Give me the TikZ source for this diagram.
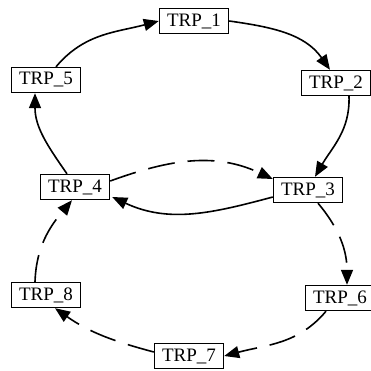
\documentclass[tikz,border=0pt]{standalone}
\usepackage{fontspec}
\setmainfont{Liberation Serif}
\usetikzlibrary{arrows.meta}
\begin{document}
\begin{tikzpicture}[x=1pt,y=1pt,
  trp/.style={draw, line width=1.4pt, minimum width=69pt, minimum height=25pt, inner sep=0pt, font=\fontsize{19}{21}\selectfont, fill=white},
  lnk/.style={line width=1.6pt, -{Triangle[length=15pt,width=12pt]}},
  dsh/.style={lnk, dash pattern=on 27pt off 13pt}]
\useasboundingbox (0,0) rectangle (371,-370);
\node[trp] (n1) at (194,-21) {TRP\_1};
\node[trp] (n2) at (336,-83) {TRP\_2};
\node[trp] (n3) at (308,-190) {TRP\_3};
\node[trp] (n4) at (75,-187) {TRP\_4};
\node[trp] (n5) at (46,-80) {TRP\_5};
\node[trp] (n6) at (340,-298) {TRP\_6};
\node[trp] (n7) at (189,-356) {TRP\_7};
\node[trp] (n8) at (46,-295) {TRP\_8};
\draw[lnk] (n5.north) ++(10,0) to[out=50,in=195] (n1.west);
\draw[lnk] (n1.east) to[out=-8,in=125] ([xshift=-6pt]n2.north);
\draw[lnk] ([xshift=13pt]n2.south) to[out=-88,in=60] ([xshift=7pt]n3.north);
\draw[lnk] ([yshift=-7pt]n3.west) to[out=195,in=-25] ([yshift=-10pt,xshift=2pt]n4.east);
\draw[lnk] ([xshift=-8pt]n4.north) to[out=125,in=-90] ([xshift=-11pt]n5.south);
\draw[dsh] ([yshift=6pt]n4.east) to[out=20,in=155] ([yshift=11pt]n3.west);
\draw[dsh] ([xshift=10pt]n3.south) to[out=-50,in=90] ([xshift=7pt]n6.north);
\draw[dsh] ([xshift=-14pt]n6.south) to[out=-130,in=15] (n7.east);
\draw[dsh] ([yshift=4pt]n7.west) to[out=165,in=-35] ([xshift=9pt]n8.south);
\draw[dsh] ([xshift=-11pt]n8.north) to[out=88,in=-130] ([xshift=-3pt]n4.south);
\end{tikzpicture}
\end{document}
